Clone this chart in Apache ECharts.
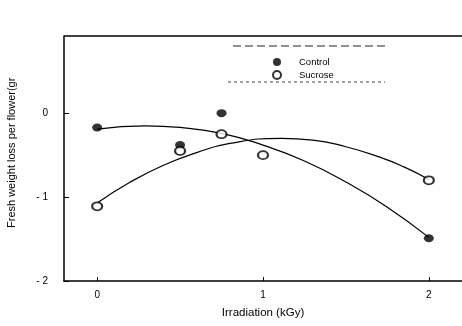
<!DOCTYPE html>
<html>
<head>
<meta charset="utf-8">
<script src="https://cdn.jsdelivr.net/npm/echarts@6/dist/echarts.min.js"></script>
<style>
html,body{margin:0;padding:0;background:#fff;}
#c{width:462px;height:326px;}
</style>
</head>
<body>
<div id="c"></div>
<script>
// Observed points
var controlX = [0, 0.5, 0.75, 2];
var controlY = [-0.17, -0.38, 0.0, -1.49];
var sucroseX = [0, 0.5, 0.75, 1, 2];
var sucroseY = [-1.11, -0.45, -0.25, -0.5, -0.8];
// Fitted curves
var controlCurveX = [0, 0.29, 0.5, 0.75, 1.0, 1.25, 1.5, 1.75, 2.0];
var controlFit = [-0.19, -0.15, -0.17, -0.24, -0.38, -0.57, -0.82, -1.12, -1.48];
var sucroseCurveX = [0, 0.2, 0.4, 0.6, 0.8, 1.11, 1.3, 1.5, 1.7, 1.85, 2.0];
var sucroseFit = [-1.07, -0.82, -0.62, -0.47, -0.36, -0.30, -0.32, -0.40, -0.52, -0.64, -0.79];
var xTicks = [0, 1, 2];
var yTicks = [-2, -1, 0];

function pairs(xs, ys){ return xs.map(function(x,i){ return [x, ys[i]]; }); }

var chart = echarts.init(document.getElementById('c'), null, {renderer:'canvas'});
var font = 'Liberation Sans, Arial, sans-serif';
chart.setOption({
  animation:false,
  grid:{left:64, top:36, width:400, bottom:45, containLabel:false},
  xAxis:{type:'value', min:-0.2, max:2.2, interval:0.2,
    axisLine:{show:true, onZero:false, lineStyle:{color:'#000', width:1.5}},
    axisTick:{show:true, inside:true, length:4, lineStyle:{color:'#000'},
      customValues: xTicks},
    axisLabel:{show:true, color:'#000', fontSize:10, fontFamily:font, margin:9,
      customValues: xTicks, formatter:function(v){return String(v);}},
    splitLine:{show:false}
  },
  yAxis:{type:'value', min:-2, max:0.92, interval:1,
    axisLine:{show:true, onZero:false, lineStyle:{color:'#000', width:1.5}},
    axisTick:{show:true, inside:true, length:5, lineStyle:{color:'#000'}, customValues: yTicks},
    axisLabel:{show:true, color:'#000', fontSize:10, fontFamily:font, margin:16,
      customValues: yTicks, formatter:function(v){return v<0 ? '- '+Math.abs(v) : String(v);}},
    splitLine:{show:false}
  },
  legend:{
    orient:'vertical', left:267, top:52, itemWidth:10, itemHeight:8, itemGap:3,
    textStyle:{fontSize:9.5, fontFamily:font, color:'#000', padding:[0,0,0,12]},
    data:[{name:'Control', icon:'circle'},{name:'Sucrose', icon:'emptyCircle'}]
  },
  graphic:[
    {type:'line', shape:{x1:64, y1:36, x2:462, y2:36}, style:{stroke:'#000', lineWidth:1.5}},
    {type:'line', shape:{x1:233, y1:46, x2:388, y2:46}, style:{stroke:'#222', lineWidth:1, lineDash:[8,4]}},
    {type:'line', shape:{x1:228, y1:82, x2:385, y2:82}, style:{stroke:'#444', lineWidth:1, lineDash:[3,3]}},
    {type:'text', x:12, y:228, rotation:Math.PI/2,
      style:{text:'Fresh weight loss per flower(gr', fontSize:11, fontFamily:font, fill:'#000',
        textAlign:'left', textVerticalAlign:'middle'}},
    {type:'text', x:263, y:313,
      style:{text:'Irradiation (kGy)', fontSize:11.5, fontFamily:font, fill:'#000',
        textAlign:'center', textVerticalAlign:'middle'}}
  ],
  series:[
    {name:'ControlFit', type:'line', data:pairs(controlCurveX, controlFit), smooth:true, showSymbol:false, silent:true,
      lineStyle:{color:'#000', width:1.2}, z:1},
    {name:'SucroseFit', type:'line', data:pairs(sucroseCurveX, sucroseFit), smooth:true, showSymbol:false, silent:true,
      lineStyle:{color:'#000', width:1.2}, z:1},
    {name:'Control', type:'scatter', data:pairs(controlX, controlY), symbol:'circle', symbolSize:[10,8],
      itemStyle:{color:'#000'}, z:3},
    {name:'Sucrose', type:'scatter', data:pairs(sucroseX, sucroseY), symbol:'emptyCircle', symbolSize:[10,8],
      itemStyle:{color:'#000', borderColor:'#000', borderWidth:1.5}, z:3}
  ]
});
</script>
</body>
</html>
